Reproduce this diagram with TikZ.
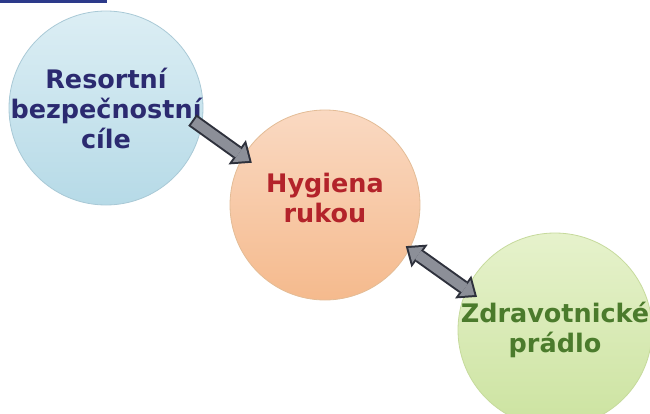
\documentclass[tikz,border=0pt]{standalone}
\usepackage{fontspec}
\setmainfont{DejaVu Sans}
\usepackage{xcolor}
\usetikzlibrary{arrows.meta,calc}

\definecolor{bluetop}{HTML}{DCEEF4}
\definecolor{bluebot}{HTML}{B6DAE7}
\definecolor{blueline}{HTML}{A9C9D6}
\definecolor{peachtop}{HTML}{FAD9C2}
\definecolor{peachbot}{HTML}{F5BA8D}
\definecolor{peachline}{HTML}{E3BC96}
\definecolor{greentop}{HTML}{E6F2CC}
\definecolor{greenbot}{HTML}{CCE3A0}
\definecolor{greenline}{HTML}{C6DA9C}
\definecolor{navytext}{HTML}{2B2A70}
\definecolor{redtext}{HTML}{B3232A}
\definecolor{greentext}{HTML}{4B7B2C}
\definecolor{arrowgrey}{HTML}{8C8F98}
\definecolor{arrowline}{HTML}{2E313C}
\definecolor{topbar}{HTML}{2C3A8A}

\begin{document}
\begin{tikzpicture}[
    x=1pt, y=-1pt,
    topic/.style={circle, draw, line width=0.8pt, inner sep=-25pt, align=center,
        font=\bfseries\fontsize{25.5}{30}\selectfont},
    topictext/.style={align=center, inner sep=0pt, font=\bfseries\fontsize{25.5}{30}\selectfont},
    arrowout/.style={line width=14pt, draw=arrowline},
    arrowin/.style={line width=10pt, draw=arrowgrey, shorten <=2pt}
]
    \useasboundingbox (0,0) rectangle (650,414);

    % Bar at the top
    \fill[topbar] (0,0) rectangle (107,3);

    % Topics
    \node[topic, minimum size=194pt, draw=blueline, top color=bluetop, bottom color=bluebot,
        text=navytext] (res) at (106,108) {Resortní\\bezpečnostní\\cíle};
    \node[topic, minimum size=190pt, draw=peachline, top color=peachtop, bottom color=peachbot]
        (hyg) at (325,205) {};
    \node[topictext, text=redtext] (hygtext) at ([yshift=7pt]hyg.center) {Hygiena\\rukou};
    \node[topic, minimum size=194pt, draw=greenline, top color=greentop, bottom color=greenbot,
        text=greentext] (zdr) at (555,330) {Zdravotnické\\prádlo};

    % Arrow ends
    \coordinate (s1) at ($(res.center)!0.895!(res.-8)$);
    \coordinate (t1) at ($(hyg.center)!0.886!(hyg.150)$);
    \coordinate (s2) at ($(hyg.center)!0.95!(hyg.-27.7)$);
    \coordinate (t2) at ($(zdr.center)!0.87!(zdr.157.7)$);

    % Arrows
    \draw[arrowout, -{Triangle[length=18pt, width=30pt, line width=0pt]}] (s1) -- (t1);
    \draw[arrowin, shorten >=3.1pt,
        -{Triangle[length=12.9pt, width=21.5pt, line width=0pt]}] (s1) -- (t1);

    \draw[arrowout, {Triangle[length=17pt, width=28pt, line width=0pt]}-{Triangle[length=17pt, width=28pt, line width=0pt]}] (s2) -- (t2);
    \draw[arrowin, shorten <=3.15pt, shorten >=3.15pt,
        {Triangle[length=11.85pt, width=19.5pt, line width=0pt]}-{Triangle[length=11.85pt, width=19.5pt, line width=0pt]}] (s2) -- (t2);
\end{tikzpicture}
\end{document}
